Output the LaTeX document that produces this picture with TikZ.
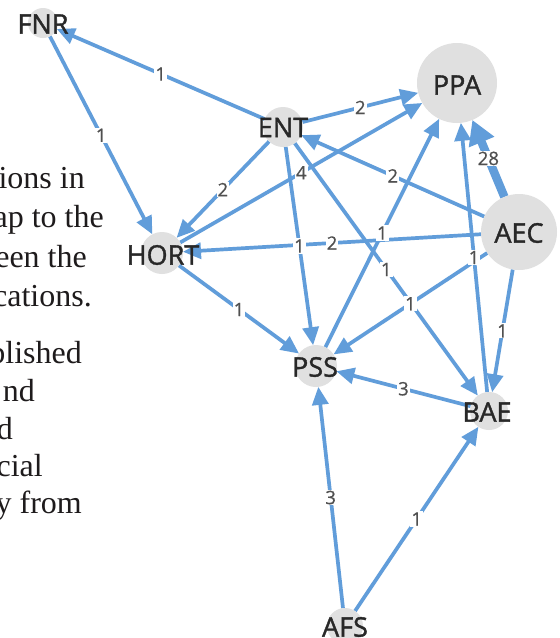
\documentclass[tikz,border=0pt]{standalone}
\usepackage{fontspec}
\setmainfont{Liberation Serif}
\newfontfamily\labfont[FakeBold=1.4]{Open Sans}
\newfontfamily\elabfont[FakeBold=0.6]{Open Sans}
\usetikzlibrary{arrows.meta,backgrounds}
\definecolor{edgeblue}{RGB}{97,157,218}
\definecolor{nodegray}{RGB}{224,224,224}
\definecolor{labdark}{RGB}{40,40,40}
\definecolor{elabgray}{RGB}{80,80,80}
\definecolor{paratext}{RGB}{30,27,28}
\tikzset{
 vtx/.style={circle, fill=nodegray, draw=none, inner sep=0pt, outer sep=0pt},
 vlab/.style={font=\labfont\fontsize{27}{27}\selectfont, text=labdark, inner sep=0pt},
 link/.style={draw=edgeblue, line width=3.7pt, -{Triangle[length=18pt,width=16pt]}},
 biglink/.style={draw=edgeblue, line width=8.5pt, -{Triangle[length=24pt,width=26pt]}},
 elab/.style={font=\elabfont\fontsize{18.5}{18.5}\selectfont, text=elabgray, fill=white, inner sep=1pt, midway},
 para/.style={font=\fontsize{32}{32}\selectfont, text=paratext, anchor=base east, inner sep=0pt},
}
\begin{document}
\begin{tikzpicture}[x=1pt,y=-1pt]
\useasboundingbox (0,0) rectangle (560,638);
\clip (0,0) rectangle (560,638);

% paragraph fragments
\node[para] (p1) at (85,188) {ions in};
\node[para] (p2) at (104,227) {ap to the};
\node[para] (p3) at (87,267) {een the};
\node[para] (p4) at (92,306) {cations.};
\node[para] (p5) at (82,363) {blished};
\node[para] (p6) at (35,401) {nd};
\node[para] (p7) at (13,439) {d};
\node[para] (p8) at (43,476) {cial};
\node[para] (p9) at (82,513) {y from};

% vertices
\node[vtx, minimum size=30pt] (FNR) at (43,23) {};
\node[vtx, minimum size=40pt] (ENT) at (283,127) {};
\node[vtx, minimum size=80pt] (PPA) at (457,83) {};
\node[vtx, minimum size=76pt] (AEC) at (519,232) {};
\node[vtx, minimum size=42pt] (HORT) at (162,253) {};
\node[vtx, minimum size=42pt] (PSS) at (316,366) {};
\node[vtx, minimum size=38pt] (BAE) at (489,411) {};
\node[vtx, minimum size=36pt] (AFS) at (345,626) {};

\node[vlab] (tFNR) at (43,24) {FNR};
\node[vlab] (tENT) at (283,127.5) {ENT};
\node[vlab] (tPPA) at (457,85) {PPA};
\node[vlab] (tAEC) at (519,233) {AEC};
\node[vlab] (tHORT) at (163,255) {HORT};
\node[vlab] (tPSS) at (315,367) {PSS};
\node[vlab] (tBAE) at (487,412) {BAE};
\node[vlab] (tAFS) at (345,627) {AFS};

\begin{pgfonlayer}{background}
\fill[white] (0,0) rectangle (560,638);
\draw[link] (ENT) -- node[elab]{1} (FNR);
\draw[link] (FNR) -- node[elab]{1} (HORT);
\draw[link] (ENT) -- node[elab]{2} (HORT);
\draw[link] (ENT) -- node[elab]{2} (PPA);
\draw[link] (HORT) -- node[elab]{4} (PPA);
\draw[link] (AEC) -- node[elab]{2} (ENT);
\draw[biglink] (AEC) -- node[elab]{28} (PPA);
\draw[link] (AEC) -- node[elab]{2} (HORT);
\draw[link] (ENT) -- node[elab]{1} (PSS);
\draw[link] (PSS) -- node[elab]{1} (PPA);
\draw[link] (ENT) -- node[elab]{1} (BAE);
\draw[link] (AEC) -- node[elab]{1} (PSS);
\draw[link] (BAE) -- node[elab]{1} (PPA);
\draw[link] (AEC) -- node[elab]{1} (BAE);
\draw[link] (BAE) -- node[elab]{3} (PSS);
\draw[link] (HORT) -- node[elab]{1} (PSS);
\draw[link] (AFS) -- node[elab]{3} (PSS);
\draw[link] (AFS) -- node[elab]{1} (BAE);
\end{pgfonlayer}
\end{tikzpicture}
\end{document}
